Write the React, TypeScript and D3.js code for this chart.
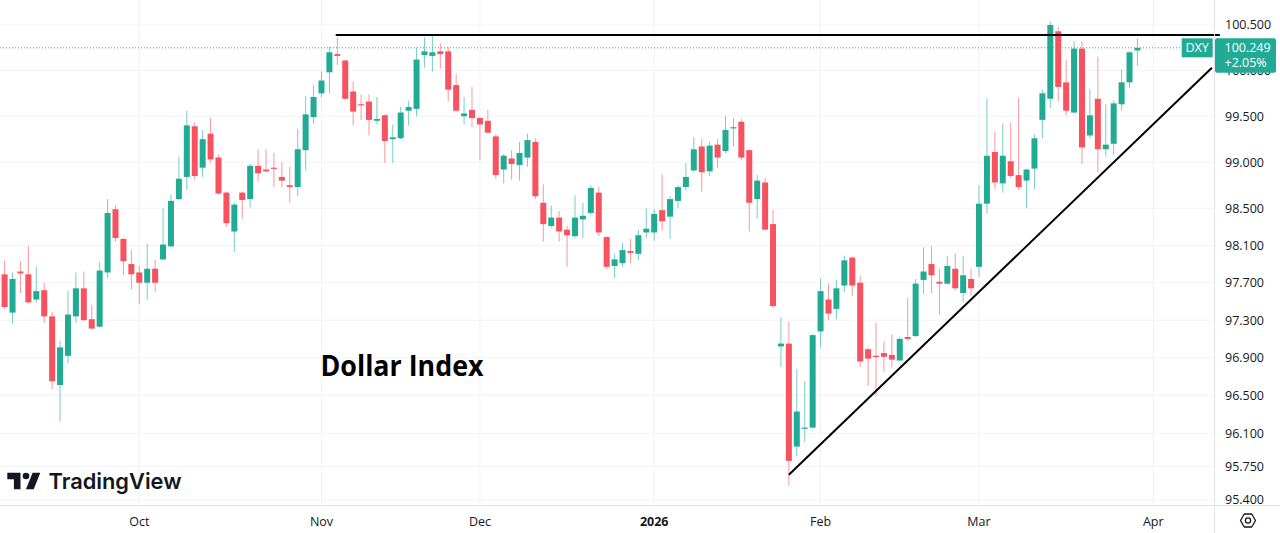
import * as d3 from "d3";

// DXY daily candles, Sep 8 2025 -> Mar 30 2026
const opens = [
  97.79, 97.38, 97.82, 97.79, 97.52, 97.62, 97.34, 96.61, 96.92, 97.34,
  97.64, 97.31, 97.23, 97.81, 98.49, 98.17, 97.9, 97.81, 97.7, 97.85,
  97.95, 98.09, 98.6, 98.84, 99.39, 98.94, 99.31, 99.05, 98.67, 98.25,
  98.67, 98.6, 98.96, 98.92, 98.94, 98.84, 98.75, 98.73, 99.13, 99.49,
  99.75, 99.98, 100.18, 100.11, 99.77, 99.63, 99.66, 99.45, 99.51, 99.25,
  99.26, 99.56, 99.58, 100.17, 100.16, 100.21, 100.21, 99.84, 99.5, 99.57,
  99.48, 99.45, 99.28, 98.92, 99.04, 98.97, 99.05, 99.22, 98.56, 98.31,
  98.4, 98.27, 98.2, 98.38, 98.45, 98.67, 98.19, 97.88, 97.91, 98.04,
  98.01, 98.24, 98.24, 98.48, 98.41, 98.58, 98.73, 98.91, 99.17, 98.9,
  99.19, 99.12, 99.37, 99.44, 99.13, 98.6, 98.78, 98.33, 97.02, 97.05,
  95.96, 96.15, 96.16, 97.18, 97.52, 97.42, 97.67, 97.97, 97.7, 96.99,
  96.92, 96.95, 96.93, 96.87, 97.12, 97.13, 97.73, 97.9, 97.71, 97.69,
  97.85, 97.59, 97.74, 97.87, 98.55, 99.11, 98.77, 99.01, 98.86, 98.8,
  98.93, 99.46, 99.69, 100.43, 99.87, 99.54, 100.24, 99.29, 99.69, 99.14,
  99.2, 99.63, 99.87, 100.22,
];
const highs = [
  97.94, 97.81, 97.93, 98.09, 97.87, 97.7, 97.39, 97.08, 97.61, 97.81,
  97.82, 97.46, 97.92, 98.6, 98.53, 98.18, 98.05, 97.88, 98.12, 97.95,
  98.5, 98.65, 99.06, 99.56, 99.43, 99.35, 99.48, 99.08, 98.68, 98.56,
  98.68, 98.98, 99.14, 99.14, 99.1, 99.0, 98.95, 99.36, 99.72, 99.84,
  99.99, 100.26, 100.36, 100.12, 99.88, 99.74, 99.74, 99.71, 99.52, 99.41,
  99.6, 99.67, 100.25, 100.36, 100.4, 100.3, 100.26, 99.96, 99.71, 99.82,
  99.49, 99.57, 99.3, 99.09, 99.13, 99.22, 99.31, 99.26, 98.76, 98.53,
  98.47, 98.31, 98.64, 98.56, 98.75, 98.73, 98.2, 98.01, 98.13, 98.17,
  98.27, 98.5, 98.49, 98.87, 98.63, 98.75, 98.99, 99.27, 99.25, 99.22,
  99.25, 99.5, 99.48, 99.47, 99.14, 98.86, 98.83, 98.48, 97.33, 97.28,
  96.78, 96.65, 97.15, 97.74, 97.69, 97.73, 97.99, 97.98, 97.77, 97.01,
  97.27, 97.07, 97.15, 97.12, 97.54, 97.74, 98.08, 98.09, 97.85, 97.99,
  98.01, 97.99, 97.85, 98.75, 99.69, 99.33, 99.42, 99.43, 99.7, 98.93,
  99.3, 99.79, 100.54, 100.48, 100.12, 100.32, 100.32, 99.8, 100.15, 99.63,
  99.67, 100.01, 100.21, 100.35,
];
const lows = [
  97.42, 97.26, 97.59, 97.48, 97.49, 97.27, 96.57, 96.22, 96.84, 97.27,
  97.29, 97.2, 97.22, 97.75, 98.14, 97.78, 97.63, 97.47, 97.52, 97.6,
  97.94, 98.08, 98.59, 98.7, 98.81, 98.84, 98.99, 98.65, 98.3, 98.03,
  98.39, 98.51, 98.79, 98.89, 98.73, 98.73, 98.56, 98.63, 98.91, 99.42,
  99.71, 99.75, 100.06, 99.68, 99.4, 99.46, 99.29, 99.41, 98.99, 98.99,
  99.25, 99.4, 99.5, 100.03, 99.99, 100.02, 99.66, 99.55, 99.41, 99.38,
  99.02, 99.31, 98.82, 98.77, 98.81, 98.8, 98.95, 98.6, 98.14, 98.29,
  98.14, 97.87, 98.18, 98.18, 98.43, 98.2, 97.85, 97.75, 97.87, 97.91,
  97.94, 98.18, 98.15, 98.26, 98.17, 98.5, 98.69, 98.89, 98.68, 98.85,
  98.94, 99.1, 99.17, 99.02, 98.25, 98.39, 98.26, 97.43, 96.8, 95.55,
  95.86, 96.01, 96.15, 97.01, 97.3, 97.31, 97.6, 97.56, 96.8, 96.6,
  96.5, 96.75, 96.8, 96.86, 97.08, 97.12, 97.58, 97.59, 97.36, 97.68,
  97.62, 97.49, 97.56, 97.76, 98.44, 98.71, 98.67, 98.83, 98.7, 98.5,
  98.71, 99.26, 99.59, 99.66, 99.51, 99.53, 98.98, 99.26, 98.89, 99.06,
  99.08, 99.56, 99.81, 100.05,
];
const closes = [
  97.44, 97.74, 97.8, 97.49, 97.61, 97.34, 96.65, 97.01, 97.36, 97.64,
  97.3, 97.21, 97.83, 98.45, 98.18, 97.93, 97.79, 97.7, 97.85, 97.7,
  98.11, 98.58, 98.82, 99.4, 98.85, 99.25, 99.03, 98.66, 98.34, 98.54,
  98.59, 98.96, 98.88, 98.9, 98.93, 98.8, 98.73, 99.14, 99.52, 99.71,
  99.89, 100.2, 100.16, 99.69, 99.55, 99.62, 99.46, 99.47, 99.23, 99.27,
  99.54, 99.6, 100.12, 100.21, 100.2, 100.18, 99.79, 99.56, 99.53, 99.48,
  99.41, 99.32, 98.86, 99.07, 98.98, 99.1, 99.24, 98.63, 98.33, 98.4,
  98.25, 98.21, 98.4, 98.42, 98.72, 98.24, 97.87, 97.95, 98.05, 98.02,
  98.21, 98.28, 98.44, 98.36, 98.6, 98.73, 98.84, 99.14, 98.89, 99.18,
  99.05, 99.35, 99.38, 99.05, 98.56, 98.8, 98.27, 97.45, 97.05, 95.81,
  96.33, 96.16, 97.14, 97.61, 97.37, 97.64, 97.94, 97.67, 96.86, 96.89,
  96.91, 96.91, 96.88, 97.1, 97.1, 97.69, 97.82, 97.78, 97.69, 97.88,
  97.64, 97.78, 97.64, 98.55, 99.07, 98.78, 99.07, 98.85, 98.73, 98.92,
  99.26, 99.75, 100.5, 99.82, 99.56, 100.24, 99.16, 99.51, 99.14, 99.19,
  99.64, 99.87, 100.2, 100.249,
];

const priceTicks = [100.5, 100.0, 99.5, 99.0, 98.5, 98.1, 97.7, 97.3, 96.9, 96.5, 96.1, 95.75, 95.4];
const monthLabels = ["Oct", "Nov", "Dec", "2026", "Feb", "Mar", "Apr"];
const monthStart = [17, 40, 60, 82, 103, 123, 145];

// drawn trend lines, as [bar index, price]
const resistance: [number, number][] = [[41.8, 100.39], [153.4, 100.39]];
const support: [number, number][] = [[99, 95.664], [152.4, 100.03]];

const symbol = "DXY";
const lastPrice = 100.249;
const lastChange = "+2.05%";

const W = 1280;
const H = 533;
const plotRight = 1214;
const plotBottom = 505;
const UP = "#22ab94";
const DOWN = "#f7525f";
const TEXT = "#131722";
const GRID = "#f2f3f6";
const BORDER = "#e0e3eb";
const axisFont = "'Open Sans', Roboto, sans-serif";

export default function App() {
  const x = d3.scaleLinear().domain([0, closes.length - 1]).range([4.6, 1137.45]);
  const y = d3.scaleLog().domain([95.4, 100.5]).range([500, 25]);
  const trend = d3
    .line<[number, number]>()
    .x((d) => x(d[0]))
    .y((d) => y(d[1]));
  const fmt = d3.format(".3f");
  const yLast = y(lastPrice);

  // hexagon for the settings button
  const hex = d3.range(6).map((k) => {
    const a = (Math.PI / 3) * k;
    return [1248 + 7.5 * Math.cos(a), 520.5 + 7.5 * Math.sin(a)] as [number, number];
  });

  return (
    <svg
      width={W}
      height={H}
      viewBox={`0 0 ${W} ${H}`}
      style={{ position: "absolute", left: 0, top: 0, background: "#fff" }}
    >
      <rect width={W} height={H} fill="#fff" />

      {/* grid */}
      {monthStart.map((m) => (
        <line key={`v${m}`} x1={x(m)} x2={x(m)} y1={0} y2={plotBottom} stroke={GRID} />
      ))}
      {priceTicks.map((t) => (
        <line key={`h${t}`} x1={0} x2={plotRight} y1={y(t)} y2={y(t)} stroke={GRID} />
      ))}

      {/* candles */}
      {closes.map((c, i) => {
        const o = opens[i];
        const color = c >= o ? UP : DOWN;
        const top = y(Math.max(o, c));
        const bottom = y(Math.min(o, c));
        return (
          <g key={i}>
            <line
              x1={x(i)}
              x2={x(i)}
              y1={y(highs[i])}
              y2={y(lows[i])}
              stroke={color}
              strokeOpacity={0.6}
              strokeWidth={1}
            />
            <rect x={x(i) - 3} width={6} y={top} height={Math.max(1.2, bottom - top)} fill={color} />
          </g>
        );
      })}

      {/* last price line */}
      <line
        x1={0}
        x2={plotRight}
        y1={yLast}
        y2={yLast}
        stroke={UP}
        strokeWidth={1}
        strokeDasharray="1 2"
      />

      {/* drawn lines */}
      <path d={trend(resistance) ?? ""} fill="none" stroke="#000" strokeWidth={2} />
      <path d={trend(support) ?? ""} fill="none" stroke="#000" strokeWidth={2} />

      {/* axis borders */}
      <line x1={plotRight + 0.5} x2={plotRight + 0.5} y1={0} y2={H} stroke={BORDER} />
      <line x1={0} x2={W} y1={plotBottom + 0.5} y2={plotBottom + 0.5} stroke={BORDER} />

      {/* price axis */}
      {priceTicks.map((t) => (
        <text
          key={`t${t}`}
          x={1225}
          y={y(t)}
          dy="0.35em"
          fontFamily={axisFont}
          fontSize={12.5}
          fill={TEXT}
        >
          {fmt(t)}
        </text>
      ))}

      {/* symbol + last value labels */}
      <rect x={1181.7} y={yLast - 9.5} width={31} height={19} fill={UP} />
      <text x={1197.2} y={yLast} dy="0.35em" textAnchor="middle" fontFamily={axisFont} fontSize={12.5} fill="#fff">
        {symbol}
      </text>
      <rect x={1215} y={yLast - 9.5} width={61} height={34.5} rx={2} fill={UP} />
      <text x={1224.5} y={yLast} dy="0.35em" fontFamily={axisFont} fontSize={12.5} fill="#fff">
        {fmt(lastPrice)}
      </text>
      <text x={1224.5} y={yLast + 15} dy="0.35em" fontFamily={axisFont} fontSize={12.5} fill="#fff">
        {lastChange}
      </text>

      {/* time axis */}
      {monthLabels.map((m, k) => (
        <text
          key={m}
          x={x(monthStart[k])}
          y={521.5}
          dy="0.35em"
          textAnchor="middle"
          fontFamily={axisFont}
          fontSize={12.5}
          fontWeight={m === "2026" ? 700 : 400}
          fill={TEXT}
        >
          {m}
        </text>
      ))}

      {/* settings button */}
      <polygon points={hex.map((p) => p.join(",")).join(" ")} fill="none" stroke={TEXT} strokeWidth={1.3} strokeLinejoin="round" />
      <circle cx={1248} cy={520.5} r={2.6} fill="none" stroke={TEXT} strokeWidth={1.3} />

      {/* title */}
      <text
        x={320.5}
        y={376}
        fontFamily="'Open Sans', 'Noto Sans', sans-serif"
        fontWeight={700}
        fontSize={28}
        textLength={163}
        lengthAdjust="spacingAndGlyphs"
        fill="#000"
      >
        Dollar Index
      </text>

      {/* watermark */}
      <g transform="translate(5.1,466.1) scale(1.1)" fill={TEXT}>
        <path d="M14 6H2v6h6v9h6V6Z" />
        <circle cx={19} cy={9} r={3} />
        <path d="M19 21l6-15h7l-6 15Z" />
      </g>
      <text
        x={48.5}
        y={489}
        fontFamily="Inter, 'Open Sans', sans-serif"
        fontWeight={600}
        fontSize={22}
        textLength={133}
        lengthAdjust="spacingAndGlyphs"
        fill={TEXT}
      >
        TradingView
      </text>
    </svg>
  );
}
